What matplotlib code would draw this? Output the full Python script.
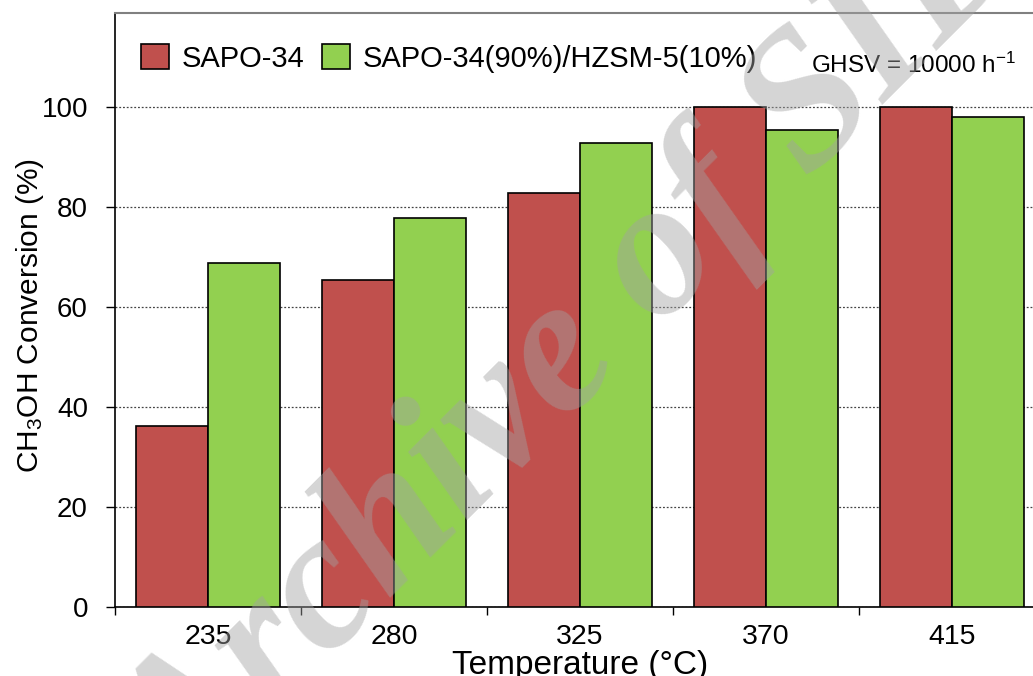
import matplotlib
matplotlib.use('Agg')
import matplotlib.pyplot as plt
import numpy as np

plt.rcParams['font.family'] = ['Liberation Sans', 'DejaVu Sans']
plt.rcParams['mathtext.fontset'] = 'custom'
plt.rcParams['mathtext.rm'] = 'Liberation Sans'
plt.rcParams['mathtext.it'] = 'Liberation Sans:italic'

# ---------------------------------- DATA ----------------------------------

temperatures = ['235', '280', '325', '370', '415']
sapo34 = [36.2, 65.4, 82.8, 100.0, 100.0]
sapo34_hzsm5 = [68.8, 77.8, 92.8, 95.4, 98.0]
series_names = ['SAPO-34', 'SAPO-34(90%)/HZSM-5(10%)']

RED = '#C0504D'
GREEN = '#92D050'
BAR_W = 0.385

W, H = 1033, 676
fig = plt.figure(figsize=(W / 100, H / 100), dpi=100)
ax = fig.add_axes([115 / W, (H - 607) / H, 930 / W, 594 / H])

x = np.arange(len(temperatures))
ax.bar(x - BAR_W / 2, sapo34, BAR_W, color=RED, edgecolor='black', linewidth=1.2,
       label=series_names[0], zorder=3)
ax.bar(x + BAR_W / 2, sapo34_hzsm5, BAR_W, color=GREEN, edgecolor='black', linewidth=1.2,
       label=series_names[1], zorder=3)

ax.set_xlim(-0.5, len(temperatures) - 0.5)
ax.set_ylim(0, 118.8)
ax.set_yticks(np.arange(0, 101, 20))
ax.yaxis.grid(True, linestyle=(0, (1.5, 1.5)), color='#444444', linewidth=0.9, zorder=0)

# category labels centred, tick marks on the boundaries
ax.set_xticks(x)
ax.set_xticklabels(temperatures)
ax.set_xticks(np.arange(-0.5, len(temperatures)), minor=True)
ax.tick_params(axis='x', which='major', length=0, pad=12, labelsize=20.5)
ax.tick_params(axis='x', which='minor', length=6, width=1, direction='out')
ax.tick_params(axis='y', length=6.5, width=1, direction='out', pad=13, labelsize=20)

ax.spines['top'].set_color('#808080')
ax.spines['top'].set_linewidth(1.5)
ax.spines['left'].set_linewidth(1.2)
ax.spines['bottom'].set_linewidth(1.2)

ax.set_xlabel('Temperature (°C)', fontsize=24, labelpad=0)
ax.set_ylabel('CH$_3$OH Conversion (%)', fontsize=21.5)
ax.yaxis.set_label_coords((46 - 115) / 930, (607 - 315) / 594)

leg = ax.legend(loc='upper left', bbox_to_anchor=(141 / W, 1 - 44 / H),
                bbox_transform=fig.transFigure, ncol=2, frameon=False,
                fontsize=21, handlelength=0.95, handleheight=0.95,
                handletextpad=0.45, columnspacing=0.6, borderpad=0, borderaxespad=0)

fig.text(811 / W, 1 - 73 / H, 'GHSV = 10000 h$^{-1}$', fontsize=17.5,
         ha='left', va='baseline')

# watermark
fig.text(184 / W, 1 - 813 / H, 'Archive of SID', fontsize=140, family='Liberation Serif',
         weight='bold', style='italic', color='#A2A2A2', alpha=0.45,
         rotation=45, rotation_mode='anchor', ha='left', va='baseline', zorder=10)

fig.savefig('out.png', dpi=100)
